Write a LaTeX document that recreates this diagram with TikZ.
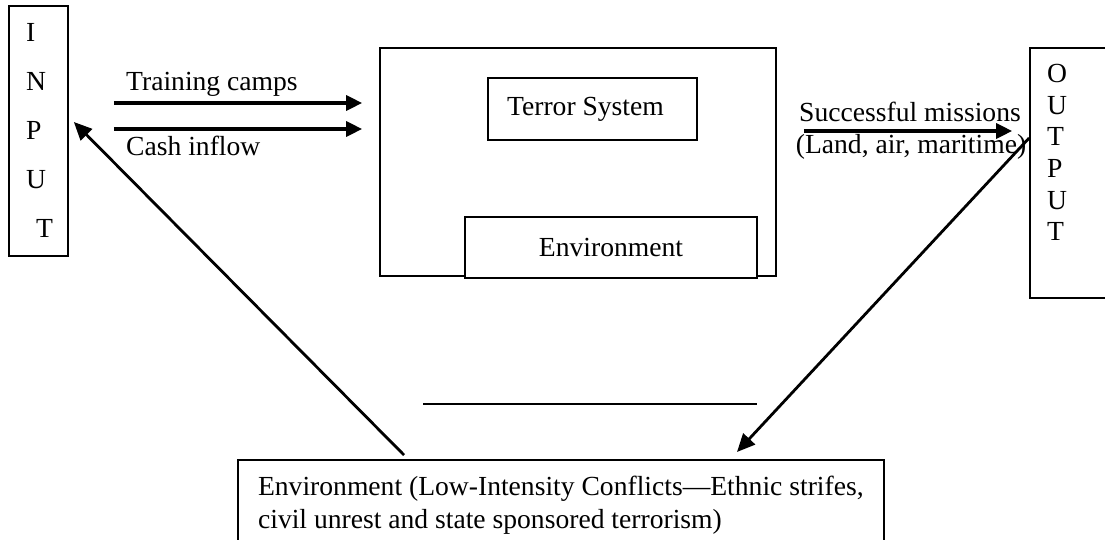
\documentclass[tikz,border=0pt]{standalone}
\usepackage{fontspec}
\setmainfont{Liberation Serif}
\usetikzlibrary{arrows.meta}

\begin{document}
\begin{tikzpicture}[x=1pt, y=-1pt,
    every node/.style={font=\fontsize{27.6}{33}\selectfont},
    box/.style={draw, line width=1.7pt, inner sep=0pt},
    lbl/.style={inner sep=0pt},
    flow/.style={line width=3.2pt, -{Triangle[length=16pt, width=15pt]}},
    feedback/.style={line width=2.8pt, -{Triangle[length=18pt, width=16pt]}}]
    % Fix the page size
    \useasboundingbox (0,0) rectangle (1105,540);

    % Input column
    \node[box, minimum width=59pt, minimum height=250pt] (input) at (38.5,131) {};
    \node[lbl, anchor=west, align=left, font=\fontsize{27.6}{49}\selectfont] (inletters) at (26,130)
        {I\\N\\P\\U\\\hspace{10pt}T};

    % Output column (runs off the right edge)
    \node[box, minimum width=96pt, minimum height=250pt] (output) at (1078,173) {};
    \node[lbl, anchor=west, align=left, font=\fontsize{27.6}{31.6}\selectfont] (outletters) at (1047,152.5)
        {O\\U\\T\\P\\U\\T};

    % Terror system with its environment
    \node[box, minimum width=396pt, minimum height=228pt] (system) at (578,162) {};
    \node[box, minimum width=209pt, minimum height=62pt] (terror) at (592.5,109) {\hspace*{-14pt}\raisebox{4pt}{Terror System}};
    \node[box, fill=white, minimum width=292pt, minimum height=61pt] (inner) at (611,247.5) {Environment};

    % Outer environment box (runs off the bottom edge)
    \node[box, anchor=north west, align=left, minimum width=646pt, inner ysep=16pt] (env) at (237,459)
        {Environment (Low-Intensity Conflicts---Ethnic strifes,\\civil unrest and state sponsored terrorism)};

    % Inputs into the system
    \draw[flow, shorten <=45pt, shorten >=17pt] ([yshift=28pt]input.east) -- ([yshift=28pt]input.east -| system.west);
    \draw[flow, shorten <=45pt, shorten >=17pt] ([yshift=2pt]input.east) -- ([yshift=2pt]input.east -| system.west);
    \node[lbl, anchor=base west] (camps) at (126,91) {Training camps};
    \node[lbl, anchor=base west] (cash) at (126,156) {Cash inflow};

    % Output of the system
    \draw[flow, shorten <=27pt, shorten >=17pt] ([yshift=31pt]system.east) -- ([yshift=31pt]system.east -| output.west);
    \node[lbl, anchor=base] (missions) at (910,122) {Successful missions};
    \node[lbl, anchor=base] (domains) at (911,154) {(Land, air, maritime)};

    % Feedback through the environment
    \draw[feedback] ([xshift=167pt, yshift=4pt]env.north west) -- ([shift={(5pt,9pt)}]input.east);
    \draw[feedback] ([yshift=35pt]output.west) -- ([shift={(500pt,7pt)}]env.north west);

    % Line above the environment box
    \draw[line width=2pt] (423,404) -- (757,404);

\end{tikzpicture}
\end{document}
